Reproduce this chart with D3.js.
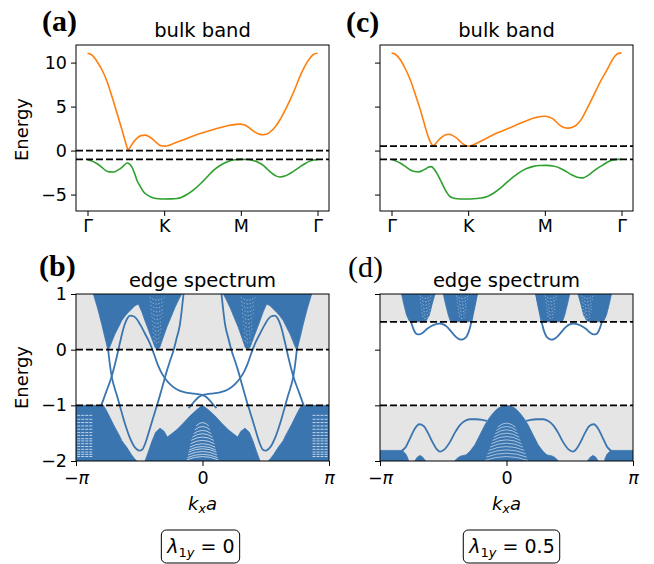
<!DOCTYPE html>
<html><head><meta charset="utf-8">
<script src="https://cdn.jsdelivr.net/npm/d3@7"></script>
<style>body{margin:0;background:#fff} svg{display:block}</style>
</head><body><svg id="c" width="654" height="564"></svg>
<script>
// ---------------- DATA ----------------
const bulkTickPos = [0, 1, 2, 3];
const bulkTickLabels = ["Γ", "K", "M", "Γ"];
const bulkEnergyTicks = [-5, 0, 5, 10];
const edgeEnergyTicks = [-2, -1, 0, 1];
const kTicks = [-1, 0, 1];            // in units of pi
const kTickLabels = ["−π", "0", "π"];

// (a) bulk band, lambda=0 : [path coordinate, energy]
const bandA_upper = [[0,11.06],[0.06,10.85],[0.126,10.1],[0.19,9.16],[0.256,7.83],[0.32,6.12],[0.386,4.22],[0.451,2.32],[0.494,1.0],[0.515,0.38],[0.529,0.0],[0.545,0.22],[0.565,0.5],[0.603,1.0],[0.65,1.45],[0.70,1.70],[0.75,1.75],[0.80,1.6],[0.863,1.2],[0.92,0.75],[0.96,0.55],[1.0,0.5],[1.06,0.58],[1.123,0.8],[1.296,1.37],[1.47,1.94],[1.643,2.4],[1.816,2.8],[1.93,2.98],[1.99,3.0],[2.04,2.93],[2.076,2.8],[2.13,2.45],[2.185,2.1],[2.24,1.87],[2.293,1.8],[2.34,1.88],[2.38,2.1],[2.45,2.7],[2.51,3.5],[2.575,4.55],[2.64,5.7],[2.705,7.0],[2.77,8.4],[2.835,9.6],[2.9,10.5],[2.95,10.95],[3.0,11.06]];
const bandA_lower = [[0,-1.03],[0.06,-1.2],[0.126,-1.5],[0.18,-1.85],[0.234,-2.25],[0.29,-2.42],[0.342,-2.43],[0.39,-2.25],[0.429,-2.05],[0.475,-1.7],[0.516,-1.42],[0.55,-1.55],[0.581,-1.9],[0.615,-2.6],[0.646,-3.4],[0.69,-4.1],[0.733,-4.7],[0.80,-5.15],[0.863,-5.4],[0.93,-5.48],[1.0,-5.5],[1.08,-5.49],[1.166,-5.45],[1.23,-5.3],[1.296,-5.0],[1.38,-4.5],[1.47,-3.8],[1.56,-3.0],[1.643,-2.25],[1.73,-1.7],[1.816,-1.3],[1.88,-1.1],[1.946,-1.03],[2.0,-1.0],[2.08,-1.02],[2.16,-1.12],[2.23,-1.35],[2.293,-1.67],[2.35,-2.15],[2.4,-2.55],[2.45,-2.85],[2.51,-3.0],[2.575,-2.9],[2.64,-2.6],[2.705,-2.25],[2.77,-1.86],[2.835,-1.5],[2.9,-1.2],[2.95,-1.07],[3.0,-1.03]];
const refLinesA = [0, -1];

// (c) bulk band, lambda=0.5
const bandC_upper = [[0,11.1],[0.05,10.95],[0.117,10.3],[0.18,9.3],[0.247,8.0],[0.31,6.4],[0.377,4.6],[0.42,3.3],[0.463,2.0],[0.50,1.1],[0.525,0.7],[0.541,0.55],[0.56,0.65],[0.59,0.95],[0.615,1.2],[0.66,1.55],[0.70,1.78],[0.745,1.86],[0.80,1.7],[0.853,1.4],[0.90,1.0],[0.939,0.72],[0.97,0.56],[1.0,0.5],[1.05,0.6],[1.113,0.84],[1.22,1.3],[1.329,1.8],[1.437,2.2],[1.545,2.6],[1.65,3.0],[1.762,3.4],[1.88,3.75],[1.95,3.88],[2.004,3.9],[2.06,3.8],[2.108,3.6],[2.15,3.25],[2.195,2.9],[2.25,2.62],[2.303,2.55],[2.36,2.65],[2.411,2.9],[2.48,3.6],[2.541,4.6],[2.605,5.7],[2.671,6.9],[2.735,8.0],[2.801,9.0],[2.855,9.9],[2.909,10.7],[2.96,11.05],[3.0,11.1]];
const bandC_lower = [[0,-1.0],[0.06,-1.2],[0.117,-1.45],[0.18,-1.8],[0.247,-2.2],[0.30,-2.38],[0.355,-2.43],[0.40,-2.3],[0.442,-2.1],[0.48,-1.9],[0.519,-1.83],[0.555,-2.1],[0.593,-2.6],[0.635,-3.3],[0.68,-4.1],[0.72,-4.75],[0.766,-5.25],[0.83,-5.45],[0.896,-5.5],[0.98,-5.5],[1.069,-5.48],[1.16,-5.4],[1.242,-5.25],[1.33,-4.85],[1.416,-4.3],[1.5,-3.65],[1.589,-3.0],[1.675,-2.45],[1.762,-2.05],[1.85,-1.8],[1.935,-1.7],[2.02,-1.68],[2.108,-1.75],[2.2,-2.0],[2.281,-2.4],[2.35,-2.75],[2.411,-3.0],[2.498,-3.1],[2.56,-2.85],[2.628,-2.4],[2.69,-2.0],[2.758,-1.63],[2.82,-1.3],[2.887,-1.06],[2.95,-1.0],[3.0,-1.0]];
const refLinesC = [0.5, -1];

// (b) edge spectrum, lambda=0 : [k/pi, energy]
const gapsB = [[0, 1], [-2, -1]];
const bUpperBlueL = [[-0.863,1],[-0.83,0.75],[-0.797,0.46],[-0.772,0.22],[-0.752,0.04],[-0.745,0],[-0.735,0.04],[-0.715,0.15],[-0.692,0.28],[-0.665,0.40],[-0.639,0.52],[-0.61,0.61],[-0.586,0.67],[-0.56,0.73],[-0.534,0.79],[-0.507,0.82],[-0.48,0.68],[-0.455,0.52],[-0.435,0.40],[-0.415,0.28],[-0.39,0.13],[-0.375,0.04],[-0.357,0],[-0.338,0.04],[-0.32,0.16],[-0.283,0.40],[-0.25,0.58],[-0.217,0.76],[-0.19,0.89],[-0.165,1]];
const bUpperBlueR = [[0.863,1],[0.83,0.75],[0.797,0.46],[0.772,0.22],[0.752,0.04],[0.745,0],[0.735,0.04],[0.715,0.15],[0.692,0.28],[0.665,0.40],[0.639,0.52],[0.61,0.61],[0.586,0.67],[0.56,0.73],[0.534,0.79],[0.507,0.82],[0.48,0.68],[0.455,0.52],[0.435,0.40],[0.415,0.28],[0.39,0.13],[0.375,0.04],[0.357,0],[0.338,0.04],[0.32,0.16],[0.283,0.40],[0.25,0.58],[0.217,0.76],[0.19,0.89],[0.165,1]];
const bLowerBlueL = [[-1,-1],[-0.784,-1.0],[-0.76,-1.09],[-0.731,-1.22],[-0.705,-1.34],[-0.679,-1.45],[-0.655,-1.55],[-0.639,-1.63],[-0.62,-1.69],[-0.6,-1.75],[-0.58,-1.82],[-0.56,-1.89],[-0.54,-1.95],[-0.52,-2.0],[-1,-2]];
const bLowerBlueR = [[1,-1],[0.784,-1.0],[0.76,-1.09],[0.731,-1.22],[0.705,-1.34],[0.679,-1.45],[0.655,-1.55],[0.639,-1.63],[0.62,-1.69],[0.6,-1.75],[0.58,-1.82],[0.56,-1.89],[0.54,-1.95],[0.52,-2.0],[1,-2]];
const bLowerBlueC = [[-0.4545,-2.0],[-0.428,-1.835],[-0.402,-1.659],[-0.37,-1.482],[-0.336,-1.41],[-0.304,-1.465],[-0.278,-1.57],[-0.244,-1.51],[-0.204,-1.44],[-0.152,-1.32],[-0.099,-1.19],[-0.046,-1.08],[0,-1.0],[0.046,-1.08],[0.099,-1.19],[0.152,-1.32],[0.204,-1.44],[0.244,-1.51],[0.278,-1.57],[0.304,-1.465],[0.336,-1.41],[0.37,-1.482],[0.402,-1.659],[0.428,-1.835],[0.4545,-2.0]];
const bEdge1 = [[-0.80,-1.0],[-0.76,-0.75],[-0.718,-0.48],[-0.68,-0.15],[-0.65,0.15],[-0.62,0.42],[-0.595,0.56],[-0.57,0.61],[-0.545,0.60],[-0.52,0.55],[-0.49,0.44],[-0.455,0.29],[-0.415,0.11],[-0.385,-0.07],[-0.357,-0.25],[-0.33,-0.39],[-0.31,-0.47],[-0.285,-0.55],[-0.257,-0.62],[-0.22,-0.69],[-0.178,-0.74],[-0.13,-0.77],[-0.086,-0.785],[-0.04,-0.80],[0,-0.815],[0.03,-0.85],[0.06,-0.92],[0.086,-0.99],[0.11,-1.05]];
const bEdge1m = [[-0.11,-1.05],[-0.086,-0.99],[-0.06,-0.92],[-0.03,-0.85],[0,-0.815],[0.04,-0.80],[0.086,-0.785],[0.13,-0.77],[0.178,-0.74],[0.22,-0.69],[0.257,-0.62],[0.285,-0.55],[0.31,-0.47],[0.33,-0.39],[0.357,-0.25],[0.385,-0.07],[0.415,0.11],[0.455,0.29],[0.49,0.44],[0.52,0.55],[0.545,0.60],[0.57,0.61],[0.595,0.56],[0.62,0.42],[0.65,0.15],[0.68,-0.15],[0.718,-0.48],[0.76,-0.75],[0.80,-1.0]];
const bEdge2 = [[-0.785,1.0],[-0.765,0.5],[-0.748,0.05],[-0.733,-0.25],[-0.718,-0.48],[-0.70,-0.65],[-0.678,-0.81],[-0.652,-1.02],[-0.626,-1.23],[-0.60,-1.42],[-0.573,-1.59],[-0.545,-1.72],[-0.52,-1.79],[-0.497,-1.815],[-0.475,-1.79],[-0.452,-1.68],[-0.432,-1.54],[-0.415,-1.41],[-0.38,-1.15],[-0.349,-0.92],[-0.315,-0.65],[-0.283,-0.39],[-0.255,-0.19],[-0.23,-0.02],[-0.205,0.2],[-0.178,0.46],[-0.162,0.75],[-0.15,1.0]];
const bEdge2m = [[0.15,1.0],[0.162,0.75],[0.178,0.46],[0.205,0.2],[0.23,-0.02],[0.255,-0.19],[0.283,-0.39],[0.315,-0.65],[0.349,-0.92],[0.38,-1.15],[0.415,-1.41],[0.432,-1.54],[0.452,-1.68],[0.475,-1.79],[0.497,-1.815],[0.52,-1.79],[0.545,-1.72],[0.573,-1.59],[0.60,-1.42],[0.626,-1.23],[0.652,-1.02],[0.678,-0.81],[0.70,-0.65],[0.718,-0.48],[0.733,-0.25],[0.748,0.05],[0.765,0.5],[0.785,1.0]];
// white gaps between sub-bands (b)
const bFlatStripeY = [-1.18,-1.25,-1.31,-1.37,-1.43,-1.49,-1.54,-1.60,-1.64,-1.69,-1.74,-1.79,-1.84,-1.88,-1.92];
const bFlatStripeK = [[-0.99,-0.87],[0.87,0.99]];
const bArchTop = [-1.31,-1.38,-1.45,-1.51,-1.57,-1.63,-1.69,-1.74,-1.78,-1.83,-1.88,-1.92];
const bArchHalf = [0.05,0.06,0.07,0.08,0.09,0.095,0.10,0.105,0.11,0.115,0.12,0.125];
const bConeCenters = [-0.36, 0.36];
const bConeTips = [0.12,0.19,0.26,0.33,0.40,0.47,0.54,0.61,0.68,0.75,0.82,0.89];
const bConeHalf = [0.025,0.028,0.031,0.034,0.037,0.04,0.043,0.046,0.049,0.052,0.055,0.058];

// (d) edge spectrum, lambda=0.5
const gapsD = [[0.5, 1], [-2, -1]];
const dCones = [
  [[-0.83,1],[-0.81,0.8],[-0.79,0.62],[-0.77,0.52],[-0.75,0.5],[-0.655,0.5],[-0.635,0.52],[-0.61,0.62],[-0.59,0.8],[-0.565,1]],
  [[-0.50,1],[-0.48,0.8],[-0.46,0.62],[-0.445,0.52],[-0.43,0.5],[-0.30,0.5],[-0.285,0.52],[-0.27,0.62],[-0.25,0.8],[-0.23,1]],
  [[0.23,1],[0.25,0.8],[0.27,0.62],[0.285,0.52],[0.30,0.5],[0.43,0.5],[0.445,0.52],[0.46,0.62],[0.48,0.8],[0.50,1]],
  [[0.565,1],[0.59,0.8],[0.61,0.62],[0.635,0.52],[0.655,0.5],[0.75,0.5],[0.77,0.52],[0.79,0.62],[0.81,0.8],[0.83,1]]
];
const dLowerBlue = [
  [[-1,-2],[-1,-1.81],[-0.84,-1.81],[-0.815,-1.83],[-0.795,-1.88],[-0.78,-1.95],[-0.775,-2]],
  [[-0.725,-2],[-0.705,-1.93],[-0.684,-1.9],[-0.663,-1.93],[-0.64,-2]],
  [[-0.41,-2],[-0.385,-1.94],[-0.36,-1.91],[-0.32,-1.89],[-0.29,-1.83],[-0.25,-1.71],[-0.21,-1.53],[-0.17,-1.35],[-0.14,-1.24],[-0.117,-1.17],[-0.09,-1.1],[-0.065,-1.05],[-0.035,-1.015],[0,-1.0],[0.035,-1.015],[0.065,-1.05],[0.09,-1.1],[0.117,-1.17],[0.14,-1.24],[0.17,-1.35],[0.21,-1.53],[0.25,-1.71],[0.29,-1.83],[0.32,-1.89],[0.36,-1.91],[0.385,-1.94],[0.41,-2]],
  [[0.64,-2],[0.663,-1.93],[0.684,-1.9],[0.705,-1.93],[0.725,-2]],
  [[0.775,-2],[0.78,-1.95],[0.795,-1.88],[0.815,-1.83],[0.84,-1.81],[1,-1.81],[1,-2]]
];
const dEdgeUpper = [[-0.765,0.62],[-0.748,0.45],[-0.73,0.34],[-0.71,0.28],[-0.69,0.275],[-0.665,0.30],[-0.63,0.37],[-0.59,0.43],[-0.55,0.465],[-0.525,0.47],[-0.50,0.455],[-0.47,0.41],[-0.435,0.32],[-0.40,0.23],[-0.375,0.19],[-0.355,0.18],[-0.335,0.195],[-0.312,0.25],[-0.293,0.36],[-0.278,0.5],[-0.262,0.68],[-0.245,0.87],[-0.235,1.0]];
const dEdgeUpperM = [[0.235,1.0],[0.245,0.87],[0.262,0.68],[0.278,0.5],[0.293,0.36],[0.312,0.25],[0.335,0.195],[0.355,0.18],[0.375,0.19],[0.40,0.23],[0.435,0.32],[0.47,0.41],[0.50,0.455],[0.525,0.47],[0.55,0.465],[0.59,0.43],[0.63,0.37],[0.665,0.30],[0.69,0.275],[0.71,0.28],[0.73,0.34],[0.748,0.45],[0.765,0.62]];
const dEdgeLower = [[-0.84,-1.83],[-0.80,-1.76],[-0.76,-1.58],[-0.725,-1.42],[-0.69,-1.34],[-0.655,-1.37],[-0.62,-1.50],[-0.585,-1.66],[-0.55,-1.79],[-0.525,-1.83],[-0.49,-1.79],[-0.45,-1.67],[-0.41,-1.50],[-0.37,-1.36],[-0.33,-1.28],[-0.29,-1.25],[-0.24,-1.25],[-0.19,-1.26],[-0.155,-1.28]];
const dEdgeLowerM = [[0.155,-1.28],[0.19,-1.26],[0.24,-1.25],[0.29,-1.25],[0.33,-1.28],[0.37,-1.36],[0.41,-1.50],[0.45,-1.67],[0.49,-1.79],[0.525,-1.83],[0.55,-1.79],[0.585,-1.66],[0.62,-1.50],[0.655,-1.37],[0.69,-1.34],[0.725,-1.42],[0.76,-1.58],[0.80,-1.76],[0.84,-1.83]];
const dArchTop = [-1.32,-1.38,-1.44,-1.50,-1.56,-1.62,-1.68,-1.74,-1.80,-1.86,-1.92];
const dArchHalf = [0.07,0.08,0.09,0.10,0.11,0.12,0.13,0.14,0.15,0.16,0.17];
const dConeCenters = [-0.64, -0.35, 0.35, 0.64];
const dConeTips = [0.56,0.62,0.68,0.74,0.80,0.86,0.92];
const dConeHalf = [0.025,0.029,0.033,0.037,0.041,0.045,0.049];
const refLinesB = [0, -1];
const refLinesD = [0.5, -1];

// ---------------- DRAWING ----------------
const svg = d3.select("#c");
const FONT = '"DejaVu Sans", sans-serif';
const BLUE = "#3b75af", GRAY = "#e5e5e5", ORANGE = "#ff7f0e", GREEN = "#2ca02c";
const TICK = 17.5;
let clipN = 0;

function makePanel(box, xd, yd) {
  const x = d3.scaleLinear().domain(xd).range([box.x0, box.x1]);
  const y = d3.scaleLinear().domain(yd).range([box.y1, box.y0]);
  const id = "clip" + (clipN++);
  svg.append("clipPath").attr("id", id).append("rect")
    .attr("x", box.x0).attr("y", box.y0).attr("width", box.x1 - box.x0).attr("height", box.y1 - box.y0);
  const g = svg.append("g").attr("clip-path", `url(#${id})`);
  return {x, y, g, box};
}
function styleAxis(ax, size) {
  ax.select(".domain").remove();
  ax.selectAll(".tick line").attr("stroke", "#000").attr("stroke-width", 1);
  ax.selectAll("text").attr("font-family", FONT).attr("font-size", size).attr("fill", "#000");
}
function frame(p) {
  svg.append("rect").attr("x", p.box.x0).attr("y", p.box.y0)
    .attr("width", p.box.x1 - p.box.x0).attr("height", p.box.y1 - p.box.y0)
    .attr("fill", "none").attr("stroke", "#000").attr("stroke-width", 1);
}
function refLines(p, vals) {
  p.g.selectAll(null).data(vals).enter().append("line")
    .attr("x1", p.box.x0).attr("x2", p.box.x1)
    .attr("y1", d => p.y(d)).attr("y2", d => p.y(d))
    .attr("stroke", "#000").attr("stroke-width", 1.8).attr("stroke-dasharray", "7,3");
}

const boxA = {x0: 76, x1: 329, y0: 45, y1: 211};
const boxC = {x0: 380, x1: 633, y0: 45, y1: 211};
const boxB = {x0: 76, x1: 329, y0: 294, y1: 461};
const boxD = {x0: 380, x1: 633, y0: 294, y1: 461};

function bulkPanel(box, up, lo, refs, showY) {
  const p = makePanel(box, [-0.15, 3.15], [-6.87, 12.0]);
  const line = d3.line().x(d => p.x(d[0])).y(d => p.y(d[1])).curve(d3.curveMonotoneX);
  p.g.append("path").attr("d", line(up)).attr("fill", "none").attr("stroke", ORANGE).attr("stroke-width", 1.6);
  p.g.append("path").attr("d", line(lo)).attr("fill", "none").attr("stroke", GREEN).attr("stroke-width", 1.6);
  refLines(p, refs);
  frame(p);
  const ay = svg.append("g").attr("transform", `translate(${box.x0},0)`)
    .call(d3.axisLeft(p.y).tickValues(bulkEnergyTicks).tickSize(5).tickPadding(4)
      .tickFormat(d => showY ? (d < 0 ? "−" + Math.abs(d) : "" + d) : ""));
  styleAxis(ay, TICK);
  const ax = svg.append("g").attr("transform", `translate(0,${box.y1})`)
    .call(d3.axisBottom(p.x).tickValues(bulkTickPos).tickSize(5).tickPadding(4)
      .tickFormat((d, i) => bulkTickLabels[i]));
  styleAxis(ax, TICK);
  return p;
}

function archPath(p, kc, top, half, droop) {
  const path = d3.path();
  path.moveTo(p.x(kc - half), p.y(top - droop));
  path.quadraticCurveTo(p.x(kc), p.y(top + droop), p.x(kc + half), p.y(top - droop));
  return path.toString();
}
function chevPath(p, kc, tip, half, rise) {
  const path = d3.path();
  path.moveTo(p.x(kc - half), p.y(tip + rise));
  path.quadraticCurveTo(p.x(kc), p.y(tip - rise), p.x(kc + half), p.y(tip + rise));
  return path.toString();
}

function edgePanel(box, gaps, polys, edges, refs, showY, stripes) {
  const p = makePanel(box, [-1, 1], [-2, 1]);
  p.g.selectAll(null).data(gaps).enter().append("rect")
    .attr("x", box.x0).attr("width", box.x1 - box.x0)
    .attr("y", d => p.y(d[1])).attr("height", d => p.y(d[0]) - p.y(d[1]))
    .attr("fill", GRAY);
  const poly = d3.line().x(d => p.x(d[0])).y(d => p.y(d[1])).curve(d3.curveLinearClosed);
  p.g.selectAll(null).data(polys).enter().append("path")
    .attr("d", poly).attr("fill", BLUE).attr("stroke", BLUE).attr("stroke-width", 0.8);
  stripes(p);
  const line = d3.line().x(d => p.x(d[0])).y(d => p.y(d[1])).curve(d3.curveMonotoneX);
  p.g.selectAll(null).data(edges).enter().append("path")
    .attr("d", line).attr("fill", "none").attr("stroke", BLUE).attr("stroke-width", 1.8);
  refLines(p, refs);
  frame(p);
  const ay = svg.append("g").attr("transform", `translate(${box.x0},0)`)
    .call(d3.axisLeft(p.y).tickValues(edgeEnergyTicks).tickSize(5).tickPadding(4)
      .tickFormat(d => showY ? (d < 0 ? "−" + Math.abs(d) : "" + d) : ""));
  styleAxis(ay, TICK);
  const ax = svg.append("g").attr("transform", `translate(0,${box.y1})`)
    .call(d3.axisBottom(p.x).tickValues(kTicks).tickSize(5).tickPadding(6).tickFormat((d, i) => kTickLabels[i]));
  styleAxis(ax, TICK);
  ax.selectAll(".tick text").each(function(d, i) {
    const t = d3.select(this); const lab = kTickLabels[i]; t.text(null);
    if (lab.includes("π")) {
      if (lab.startsWith("−")) t.append("tspan").text("−");
      t.append("tspan").attr("font-style", "italic").text("π");
    } else t.text(lab);
  });
  // k_x a label
  const kl = svg.append("text").attr("x", (box.x0 + box.x1) / 2).attr("y", 510)
    .attr("text-anchor", "middle").attr("font-family", FONT).attr("font-size", 18).attr("font-style", "italic");
  kl.append("tspan").text("k");
  kl.append("tspan").attr("font-size", 12.5).attr("dy", 3).text("x");
  kl.append("tspan").attr("dy", -3).text("a");
  return p;
}

// (a) and (c)
bulkPanel(boxA, bandA_upper, bandA_lower, refLinesA, true);
bulkPanel(boxC, bandC_upper, bandC_lower, refLinesC, false);

// (b)
edgePanel(boxB, gapsB, [bUpperBlueL, bUpperBlueR, bLowerBlueL, bLowerBlueR, bLowerBlueC],
  [bEdge1, bEdge1m, bEdge2, bEdge2m], refLinesB, true, p => {
    const w = p.g.append("g").attr("stroke", "#fff").attr("fill", "none");
    bFlatStripeK.forEach(r => {
      w.selectAll(null).data(bFlatStripeY).enter().append("line")
        .attr("x1", p.x(r[0])).attr("x2", p.x(r[1]))
        .attr("y1", d => p.y(d)).attr("y2", d => p.y(d))
        .attr("stroke-width", 1).attr("stroke-opacity", 0.7).attr("stroke-dasharray", "3,1");
    });
    w.selectAll(null).data(bArchTop).enter().append("path")
      .attr("d", (d, i) => archPath(p, 0, d, bArchHalf[i], 0.06))
      .attr("stroke-width", 1).attr("stroke-opacity", 0.65);
    bConeCenters.forEach(c => {
      w.selectAll(null).data(bConeTips).enter().append("path")
        .attr("d", (d, i) => chevPath(p, c, d, bConeHalf[i], 0.05))
        .attr("stroke-width", 0.9).attr("stroke-opacity", 0.5).attr("stroke-dasharray", "1.5,1.5");
    });
  });

// (d)
edgePanel(boxD, gapsD, dCones.concat(dLowerBlue),
  [dEdgeUpper, dEdgeUpperM, dEdgeLower, dEdgeLowerM], refLinesD, false, p => {
    const w = p.g.append("g").attr("stroke", "#fff").attr("fill", "none");
    w.selectAll(null).data(dArchTop).enter().append("path")
      .attr("d", (d, i) => archPath(p, 0, d, dArchHalf[i], 0.07))
      .attr("stroke-width", 1).attr("stroke-opacity", 0.55);
    dConeCenters.forEach(c => {
      w.selectAll(null).data(dConeTips).enter().append("path")
        .attr("d", (d, i) => chevPath(p, c, d, dConeHalf[i], 0.05))
        .attr("stroke-width", 0.9).attr("stroke-opacity", 0.5).attr("stroke-dasharray", "1.5,1.5");
    });
  });

// titles
[["bulk band", 202.5, 37], ["bulk band", 506.5, 37], ["edge spectrum", 202.5, 287], ["edge spectrum", 506.5, 287]]
  .forEach(t => svg.append("text").attr("x", t[1]).attr("y", t[2]).attr("text-anchor", "middle")
    .attr("font-family", FONT).attr("font-size", 19.5).text(t[0]));
// y labels
[129.5, 377.5].forEach(cy => svg.append("text").attr("transform", `translate(28,${cy}) rotate(-90)`)
  .attr("text-anchor", "middle").attr("font-family", FONT).attr("font-size", 18).text("Energy"));
// panel letters
[["(a)", 42, 31, "bold"], ["(c)", 346, 32, "bold"], ["(b)", 39, 276, "bold"], ["(d)", 348, 277, "normal"]]
  .forEach(t => svg.append("text").attr("x", t[1]).attr("y", t[2])
    .attr("font-family", '"Liberation Serif","Times New Roman",serif').attr("font-size", 30)
    .attr("font-weight", t[3]).text(t[0]));

// lambda boxes
function lamBox(cx, val) {
  const g = svg.append("g");
  const t = g.append("text").attr("x", cx).attr("y", 553).attr("text-anchor", "middle")
    .attr("font-family", FONT).attr("font-size", 19);
  t.append("tspan").attr("font-style", "italic").text("λ");
  t.append("tspan").attr("font-size", 13).attr("dy", 4).text("1");
  t.append("tspan").attr("font-size", 13).attr("font-style", "italic").text("y");
  t.append("tspan").attr("dy", -4).text(" = " + val);
  const bb = t.node().getBBox();
  g.insert("rect", "text").attr("x", bb.x - 5).attr("y", 530).attr("width", bb.width + 10).attr("height", 33)
    .attr("rx", 5).attr("fill", "#fff").attr("stroke", "#000").attr("stroke-width", 1);
}
lamBox(201, "0");
lamBox(512, "0.5");
</script></body></html>
